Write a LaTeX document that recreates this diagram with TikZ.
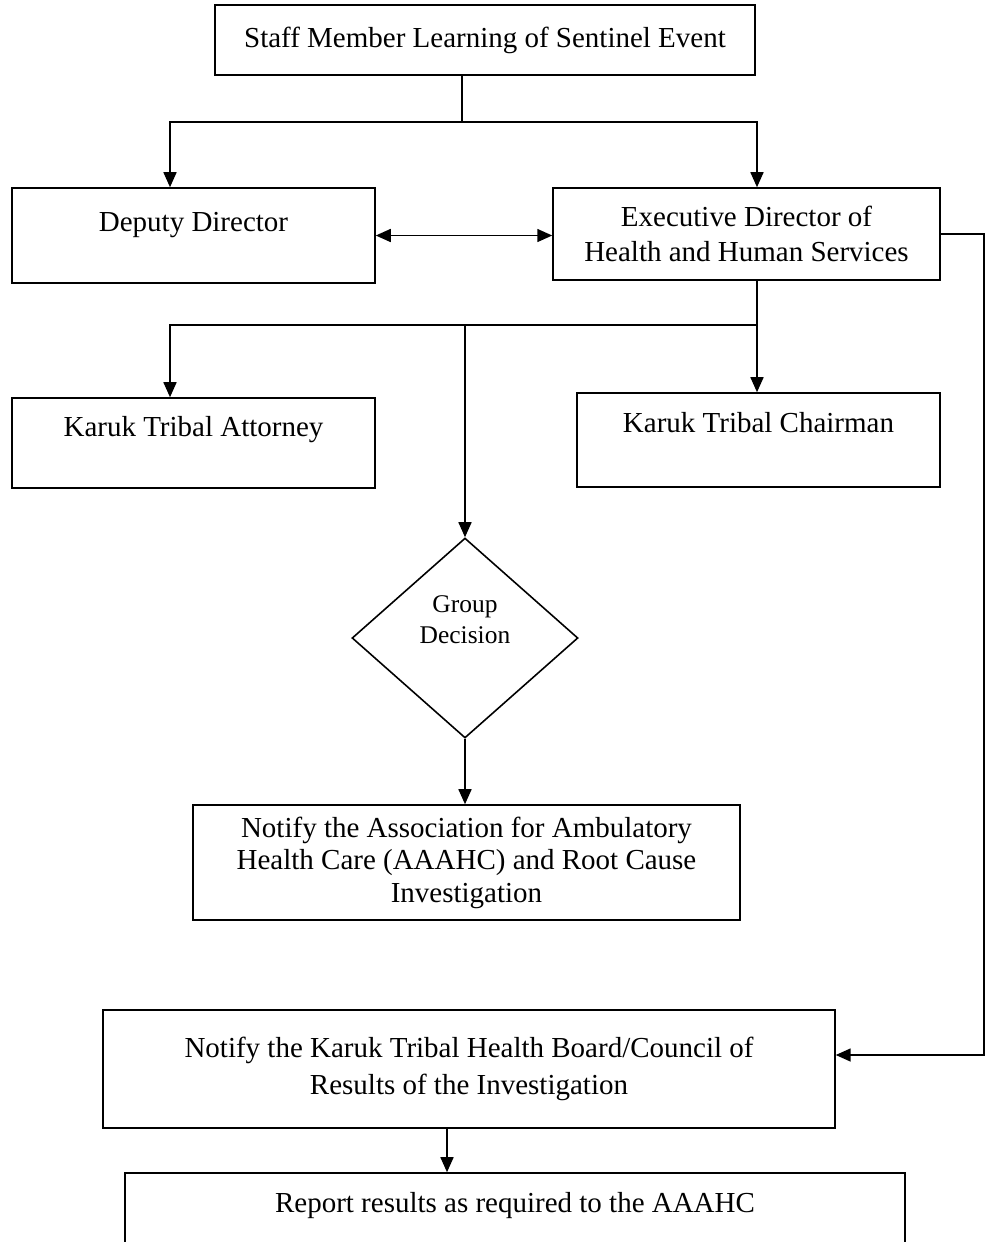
\documentclass[tikz,border=0pt]{standalone}
\usepackage{fontspec}
\setmainfont{Liberation Serif}
\usetikzlibrary{arrows.meta,shapes.geometric}

\begin{document}
\begin{tikzpicture}[x=0.02cm,y=-0.02cm,
    box/.style={draw,line width=0.9pt,rectangle,align=center,inner sep=0pt,font=\fontsize{16.5}{19.5}\selectfont},
    decision/.style={draw,line width=0.9pt,diamond,inner sep=0pt,minimum width=4.52cm,minimum height=4cm},
    line/.style={line width=0.9pt},
    arr/.style={line width=0.9pt,-{Triangle[length=0.3cm,width=0.26cm]}},
    dblarr/.style={line width=0.9pt,{Triangle[length=0.3cm,width=0.26cm]}-{Triangle[length=0.3cm,width=0.26cm]}}]

            \useasboundingbox (0,0) rectangle (985,1242);

            %boxes
            \node[box,minimum width=10.8cm,minimum height=1.4cm] (staff) at (485,40) {Staff Member Learning of Sentinel Event};

            \node[box,minimum width=7.26cm,text height=0.86cm,text depth=1.04cm] (dep) at (193.5,235.5) {Deputy Director};

            \node[box,minimum width=7.74cm,minimum height=1.84cm] (exec) at (746.5,234) {Executive Director of\\Health and Human Services};

            \node[box,minimum width=7.26cm,text height=0.76cm,text depth=1.04cm] (att) at (193.5,443) {Karuk Tribal Attorney};

            \node[box,minimum width=7.26cm,text height=0.78cm,text depth=1.1cm] (chair) at (758.5,440) {Karuk Tribal Chairman};

            %decision
            \node[decision] (dia) at (465,638) {};
            \node[align=center,inner sep=0pt,font=\fontsize{14.5}{17.5}\selectfont] (diatext) at (465,620) {Group\\Decision};

            \node[box,minimum width=10.94cm,minimum height=2.3cm,font=\fontsize{16.5}{18.5}\selectfont] (aaahc) at (466.5,862.5) {Notify the Association for Ambulatory\\Health Care (AAAHC) and Root Cause\\Investigation};

            \node[box,minimum width=14.64cm,minimum height=2.36cm,font=\fontsize{16.5}{21.5}\selectfont] (board) at (469,1069) {Notify the Karuk Tribal Health Board/Council of\\Results of the Investigation};

            \node[box,minimum width=15.6cm,text height=0.78cm,text depth=0.96cm] (report) at (515,1216.5) {Report results as required to the AAAHC};

            %connectors
            \coordinate (split1) at (462,122);
            \coordinate (split2) at (757,325);
            \coordinate (rtop) at (984,234);
            \coordinate (rbot) at (984,1055);

            \draw[line] (staff.south -| split1) -- (split1);
            \draw[arr] (split1) -| ([xshift=-0.47cm]dep.north);
            \draw[arr] (split1) -| ([xshift=0.21cm]exec.north);

            \draw[dblarr] (dep.east) -- (dep.east -| exec.west);

            \draw[line] (exec.south -| split2) -- (split2);
            \draw[arr] (split2) -- (split2 |- chair.north);
            \draw[arr] (split2) -| ([xshift=-0.47cm]att.north);
            \draw[arr] (split2 -| dia.north) -- (dia.north);

            \draw[arr] (dia.south) -- (dia.south |- aaahc.north);

            \draw[arr] (exec.east) -- (rtop) -- (rbot) -- (rbot -| board.east);

            \draw[arr] ([xshift=-0.44cm]board.south) -- ([xshift=-0.44cm]board.south |- report.north);
        \end{tikzpicture}
\end{document}
